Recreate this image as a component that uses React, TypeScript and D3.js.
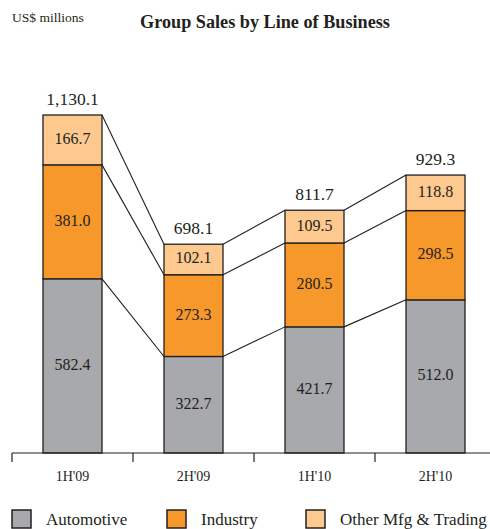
import React from "react";
import * as d3 from "d3";

const categories = ["1H'09", "2H'09", "1H'10", "2H'10"];
const automotive = [582.4, 322.7, 421.7, 512.0];
const industry = [381.0, 273.3, 280.5, 298.5];
const otherMfg = [166.7, 102.1, 109.5, 118.8];
const totals = ["1,130.1", "698.1", "811.7", "929.3"];
const seriesNames = ["Automotive", "Industry", "Other Mfg & Trading"];
const colors = ["#a7a9ac", "#f7982a", "#fdc98f"];

const W = 490, H = 529;
const baseY = 453;
const ink = "#231f20";
const font = "'Liberation Serif', 'Times New Roman', serif";

export default function App() {
  const x = d3.scaleBand().domain(categories).range([12, 496]).paddingInner(0).paddingOuter(0);
  const barW = 59;
  const barX = (c: string) => (x(c) as number) + (x.bandwidth() - barW) / 2;
  const y = d3.scaleLinear().domain([0, 1130.1]).range([baseY, 115]);

  const rows = categories.map((c, i) => ({ c, automotive: automotive[i], industry: industry[i], otherMfg: otherMfg[i] }));
  const stack = d3.stack<any>().keys(["automotive", "industry", "otherMfg"])(rows);

  const connectors: JSX.Element[] = [];
  for (let i = 0; i < categories.length - 1; i++) {
    stack.forEach((s, k) => {
      connectors.push(
        <line key={`c${i}-${k}`} x1={barX(categories[i]) + barW} y1={y(s[i][1])}
          x2={barX(categories[i + 1])} y2={y(s[i + 1][1])} stroke={ink} strokeWidth={1.1} />
      );
    });
  }

  const tickXs = categories.map((c) => x(c) as number);

  return (
    <svg width={W} height={H} style={{ position: "absolute", left: 0, top: 0, background: "#fff" }} fontFamily={font}>
      <text x={12} y={22} fontSize={13.5} fill={ink}>US$ millions</text>
      <text x={265} y={28} fontSize={18.2} fontWeight="bold" textAnchor="middle" fill={ink}>Group Sales by Line of Business</text>

      {connectors}

      {stack.map((s, k) => (
        <g key={k}>
          {s.map((d, i) => (
            <g key={i}>
              <rect x={barX(categories[i])} y={y(d[1])} width={barW} height={y(d[0]) - y(d[1])}
                fill={colors[k]} stroke={ink} strokeWidth={1.3} />
              <text x={barX(categories[i]) + barW / 2} y={(y(d[0]) + y(d[1])) / 2 + 4}
                fontSize={16} textAnchor="middle" fill={ink}>
                {[automotive, industry, otherMfg][k][i].toFixed(1)}
              </text>
            </g>
          ))}
        </g>
      ))}

      {categories.map((c, i) => (
        <text key={c} x={barX(c) + barW / 2} y={y(stack[2][i][1]) - 10} fontSize={17.5} textAnchor="middle" fill={ink}>
          {totals[i]}
        </text>
      ))}

      <line x1={12} x2={490} y1={baseY} y2={baseY} stroke={ink} strokeWidth={1.2} />
      {tickXs.map((t, i) => (
        <line key={i} x1={t} x2={t} y1={baseY} y2={baseY + 9} stroke={ink} strokeWidth={1.2} />
      ))}
      {categories.map((c) => (
        <text key={c} x={barX(c) + barW / 2} y={481} fontSize={14} textAnchor="middle" fill={ink}>{c}</text>
      ))}

      {seriesNames.map((n, k) => {
        const lx = [12, 167, 306][k];
        return (
          <g key={n}>
            <rect x={lx} y={510} width={19} height={18} fill={colors[k]} stroke={ink} strokeWidth={1.5} />
            <text x={lx + 34} y={524.5} fontSize={17} fill={ink}>{n}</text>
          </g>
        );
      })}
    </svg>
  );
}
